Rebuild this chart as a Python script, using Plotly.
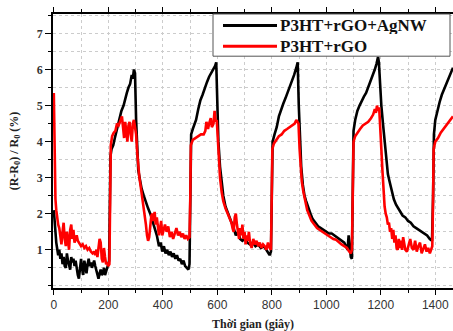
import plotly.graph_objects as go

# ---- data: P3HT+rGO+AgNW (black) ----
t_black = [0, 3, 6, 9, 12, 16, 20, 24, 28, 32, 36, 40, 44, 48, 52, 56, 60, 64, 68, 72, 76, 80, 84, 88, 92, 96,
           100, 104, 108, 112, 116, 120, 124, 128, 132, 136, 140, 144, 148, 152, 156, 160, 164, 168, 172, 176,
           180, 184, 188, 192, 196, 200, 203,
           206, 208, 212, 218, 224, 232, 240, 248, 256, 262, 268, 274, 280, 286, 290, 294, 298,
           302, 306, 310, 316, 322, 330, 338, 346, 354, 362, 370, 378, 386, 392, 398, 404, 410, 416, 422, 428,
           434, 440, 446, 452, 458, 464, 470, 476, 482, 488, 494, 498,
           501, 504, 510, 516, 522, 530, 538, 546, 554, 562, 570, 578, 586, 592, 596,
           600, 604, 610, 616, 622, 630, 640, 650, 660, 668, 676, 684, 692, 700, 710, 720, 730, 740, 750, 760,
           770, 780, 786, 792, 797,
           800, 803, 810, 818, 826, 834, 842, 850, 858, 866, 874, 882, 890, 895,
           899, 903, 908, 914, 920, 926, 934, 942, 950, 960, 970, 980, 990, 1000, 1010, 1020, 1030, 1040, 1050,
           1060, 1066, 1072, 1078, 1082, 1086, 1090, 1094,
           1097, 1100, 1106, 1114, 1122, 1130, 1138, 1146, 1154, 1162, 1170, 1178, 1184, 1190, 1193,
           1197, 1202, 1208, 1214, 1220, 1226, 1232, 1240, 1248, 1256, 1264, 1272, 1280, 1290, 1300, 1310, 1320,
           1330, 1340, 1350, 1360, 1370, 1380, 1388,
           1392, 1395, 1400, 1408, 1416, 1424, 1432, 1440, 1448, 1456, 1465]
v_black = [2.1, 1.7, 1.4, 1.2, 1.05, 0.85, 1.0, 0.75, 0.9, 0.6, 0.8, 0.55, 0.5, 0.9, 0.7, 0.6, 0.45, 0.8, 0.65, 0.75,
           0.55, 0.7, 0.4, 0.3, 0.2, 0.5, 0.75, 0.45, 0.3, 0.7, 0.5, 0.35, 0.6, 0.75, 0.55, 0.65, 0.5, 0.6, 0.7,
           0.55, 0.4, 0.3, 0.2, 0.35, 0.45, 0.3, 0.35, 0.5, 0.3, 0.4, 0.55, 0.6, 0.7,
           2.5, 3.6, 3.8, 3.9, 4.1, 4.35, 4.6, 4.85, 5.0, 5.2, 5.35, 5.5, 5.6, 5.85, 5.75, 6.0, 5.9,
           4.6, 3.6, 3.2, 2.95, 2.7, 2.5, 2.3, 2.15, 2.0, 1.8, 1.6, 1.4, 1.1, 1.2, 0.95, 1.1, 0.9, 1.0, 0.85, 0.95,
           0.8, 0.9, 0.75, 0.85, 0.7, 0.75, 0.6, 0.7, 0.55, 0.5, 0.45, 0.6,
           3.0, 4.2, 4.35, 4.5, 4.6, 4.9, 5.15, 5.3, 5.5, 5.65, 5.8, 5.9, 6.0, 6.1, 6.2,
           5.0, 4.0, 3.3, 2.8, 2.5, 2.2, 2.0, 1.85, 1.6, 1.4, 1.5, 1.3, 1.25, 1.3, 1.2, 1.15, 1.2, 1.1, 1.15, 1.05,
           1.1, 1.0, 0.9, 0.85, 0.95,
           3.0, 4.0, 4.2, 4.4, 4.7, 4.9, 5.05, 5.2, 5.35, 5.5, 5.7, 5.85, 6.05, 6.2,
           5.0, 4.0, 3.3, 2.8, 2.5, 2.35, 2.15, 2.0, 1.85, 1.75, 1.65, 1.6, 1.55, 1.5, 1.45, 1.45, 1.4, 1.35, 1.3,
           1.25, 1.2, 1.1, 1.0, 1.4, 1.1, 0.8, 0.75,
           3.2, 4.3, 4.6, 4.85, 5.0, 5.15, 5.25, 5.35, 5.5, 5.65, 5.8, 6.0, 6.15, 6.35, 6.2,
           5.6, 5.0, 4.5, 4.0, 3.5, 3.1, 2.9, 2.65, 2.4, 2.25, 2.15, 2.05, 1.95, 1.9, 1.8, 1.75, 1.65,
           1.6, 1.55, 1.5, 1.45, 1.4, 1.3, 1.25,
           2.5, 4.2, 4.6, 4.9, 5.1, 5.3, 5.45, 5.6, 5.75, 5.9, 6.05]

# ---- data: P3HT+rGO (red) ----
t_red = [0, 2, 4, 6, 9, 12, 16, 20, 24, 28, 32, 36, 40, 44, 48, 52, 56, 60, 64, 68, 72, 76, 80, 84, 88, 92, 96,
         100, 106, 112, 118, 124, 130, 136, 142, 148, 152, 156, 160, 164, 168, 172, 176, 180, 184, 188, 192, 196,
         200, 204,
         207, 209, 214, 220, 226, 232, 238, 244, 250, 254, 258, 262, 266, 270, 274, 278, 282, 286, 290, 294, 298, 302,
         306, 310, 314, 318, 322, 326, 330, 334, 338, 342, 346, 350, 354, 358, 362, 366, 370, 374, 378, 382, 386,
         390, 394, 398, 402, 408, 414, 420, 426, 432, 438, 444, 450, 456, 462, 468, 474, 480, 486, 492, 498,
         501, 503, 510, 520, 530, 540, 550, 556, 560, 566, 570, 576, 580, 586, 590, 594, 598,
         602, 606, 610, 616, 622, 630, 638, 646, 652, 656, 660, 664, 668, 672, 676, 680, 684, 688, 692, 696, 700,
         704, 708, 712, 716, 720, 726, 732, 738, 744, 750, 756, 762, 768, 774, 780, 786, 792, 797,
         800, 802, 808, 816, 826, 836, 846, 856, 866, 876, 884, 890, 895, 898,
         902, 906, 910, 916, 922, 930, 938, 946, 956, 966, 976, 986, 996, 1006, 1016, 1026, 1036, 1046, 1056,
         1066, 1076, 1084, 1090, 1094,
         1097, 1100, 1106, 1114, 1124, 1134, 1144, 1154, 1164, 1172, 1178, 1182, 1186, 1190, 1194,
         1198, 1202, 1206, 1210, 1214, 1218, 1222, 1226, 1230, 1234, 1238, 1242, 1246, 1250, 1254, 1258, 1262,
         1266, 1270, 1274, 1278, 1282, 1286, 1290, 1296, 1302, 1308, 1314, 1320, 1326, 1332, 1338, 1344, 1350,
         1356, 1362, 1368, 1374, 1380, 1386, 1389,
         1392, 1394, 1400, 1410, 1420, 1430, 1440, 1450, 1465]
v_red = [5.35, 4.0, 3.0, 2.4, 2.1, 1.9, 1.7, 1.6, 1.35, 1.15, 1.5, 1.75, 1.3, 1.1, 1.5, 1.2, 1.0, 1.55, 1.7, 1.3,
         1.55, 1.2, 1.35, 1.4, 1.25, 1.2, 1.15, 1.1, 1.15, 1.05, 1.1, 1.0, 1.05, 0.95, 0.9, 0.95, 0.85, 1.0, 0.8,
         1.1, 1.3, 1.2, 0.75, 0.65, 1.05, 0.8, 0.6, 0.65, 0.55, 0.6,
         2.5, 3.9, 4.15, 4.25, 4.3, 4.5, 4.45, 4.6, 4.7, 4.4, 4.1, 4.55, 4.3, 4.0, 4.45, 4.55, 4.2, 4.0, 4.5, 4.6,
         4.4, 4.2,
         3.7, 3.3, 3.0, 2.8, 2.6, 2.4, 2.2, 2.0, 1.7, 1.4, 1.25, 1.35, 1.7, 1.95, 2.0, 1.8, 2.05, 1.7, 1.9, 1.55,
         1.4, 1.6, 1.8, 1.4, 1.55, 1.7, 1.5, 1.65, 1.35, 1.5, 1.3, 1.45, 1.6, 1.4, 1.5, 1.35, 1.45, 1.3, 1.4, 1.3,
         1.35,
         2.5, 3.9, 4.05, 4.1, 4.15, 4.2, 4.2, 4.3, 4.55, 4.35, 4.5, 4.65, 4.4, 4.5, 4.85, 4.55, 4.6,
         4.0, 3.4, 3.0, 2.6, 2.35, 2.15, 2.0, 1.9, 1.75, 1.6, 1.5, 1.9, 2.0, 1.7, 1.45, 1.3, 1.6, 1.4, 1.7, 1.3,
         1.5, 1.15, 1.4, 1.25, 1.5, 1.2, 1.05, 1.3, 1.15, 1.25, 1.1, 1.2, 1.05, 1.15, 1.1, 1.0, 1.2, 1.05, 1.0,
         2.5, 3.8, 3.95, 4.05, 4.15, 4.2, 4.3, 4.35, 4.4, 4.45, 4.5, 4.6, 4.55, 4.5,
         3.8, 3.3, 2.9, 2.6, 2.35, 2.1, 1.95, 1.8, 1.7, 1.6, 1.55, 1.5, 1.45, 1.4, 1.35, 1.3, 1.28, 1.2, 1.15,
         1.1, 1.05, 0.95, 0.9, 1.0,
         2.6, 4.0, 4.15, 4.25, 4.35, 4.45, 4.5, 4.55, 4.65, 4.75, 4.9, 4.8, 5.0, 4.85, 4.95,
         4.5, 3.8, 3.2, 2.6, 2.2, 2.0, 1.9, 1.7, 1.75, 1.5, 1.6, 1.3, 1.55, 1.2, 1.4, 1.05, 1.0,
         1.3, 1.05, 1.25, 1.0, 1.35, 1.2, 1.0, 0.95, 1.1, 1.3, 1.05, 1.0, 1.25, 0.95, 1.1, 1.2, 0.9,
         1.0, 1.15, 0.95, 1.05, 0.9, 1.0, 1.1,
         2.5, 3.8, 4.0, 4.1, 4.25, 4.35, 4.45, 4.55, 4.7]

x_ticks = [0, 200, 400, 600, 800, 1000, 1200, 1400]
y_ticks = [1, 2, 3, 4, 5, 6, 7]
series_names = ["P3HT+rGO+AgNW", "P3HT+rGO"]
series_colors = ["black", "#ff0000"]

serif = "Liberation Serif, Times New Roman, serif"

fig = go.Figure()
for name, color, tx, vy in zip(series_names, series_colors, [t_black, t_red], [v_black, v_red]):
    fig.add_trace(go.Scatter(x=tx, y=vy, mode="lines", name=name,
                             line=dict(color=color, width=2.6), showlegend=False))

# compact legend box (paper coordinates)
box_x0, box_x1, box_y0, box_y1 = 0.40, 0.9925, 0.846, 1.0
fig.add_shape(type="rect", xref="paper", yref="paper", x0=box_x0, x1=box_x1, y0=box_y0, y1=box_y1,
              line=dict(color="#555555", width=1), fillcolor="white", layer="above")
row_y = [0.958, 0.882]
for name, color, ry in zip(series_names, series_colors, row_y):
    fig.add_shape(type="line", xref="paper", yref="paper", x0=0.425, x1=0.56, y0=ry, y1=ry,
                  line=dict(color=color, width=3), layer="above")
    fig.add_annotation(xref="paper", yref="paper", x=0.565, y=ry, xanchor="left", yanchor="middle",
                       text=name, showarrow=False, height=17, valign="middle", borderpad=0,
                       font=dict(family=serif, size=17, color="#111111", weight="bold"))

fig.update_layout(
    width=453, height=331,
    margin=dict(l=53, r=0, t=14, b=43),
    paper_bgcolor="white", plot_bgcolor="white",
    showlegend=False,
)
fig.update_xaxes(
    range=[-3, 1465], tickvals=x_ticks,
    showline=True, linecolor="black", linewidth=1.5, mirror="ticks",
    ticks="outside", ticklen=5, tickwidth=1.2, tickcolor="black",
    tickfont=dict(family="Liberation Sans, Arial, sans-serif", size=12, color="#333333"),
    showgrid=True, gridcolor="#cccccc", griddash="dot", gridwidth=1,
    minor=dict(dtick=100, tick0=0, ticks="outside", ticklen=3, tickcolor="black",
               showgrid=True, gridcolor="#cccccc", griddash="dot"),
    zeroline=False,
    title=dict(text="Thời gian (giây)", font=dict(family=serif, size=12, color="#222222", weight="bold"),
               standoff=8),
)
fig.update_yaxes(
    range=[-0.06, 7.54], tickvals=y_ticks,
    showline=True, linecolor="black", linewidth=1.5, mirror=False,
    ticks="outside", ticklen=6, tickwidth=1.2, tickcolor="black",
    tickfont=dict(family=serif, size=12, color="#333333", weight="bold"),
    showgrid=True, gridcolor="#cccccc", griddash="dot", gridwidth=1,
    minor=dict(dtick=0.5, tick0=0, ticks="outside", ticklen=3, tickcolor="black",
               showgrid=True, gridcolor="#cccccc", griddash="dot"),
    zeroline=False,
    title=dict(text="(R-R<sub>0</sub>) / R<sub>0</sub> (%)",
               font=dict(family=serif, size=12, color="#222222", weight="bold"), standoff=16),
)

fig.write_html("out.html")
